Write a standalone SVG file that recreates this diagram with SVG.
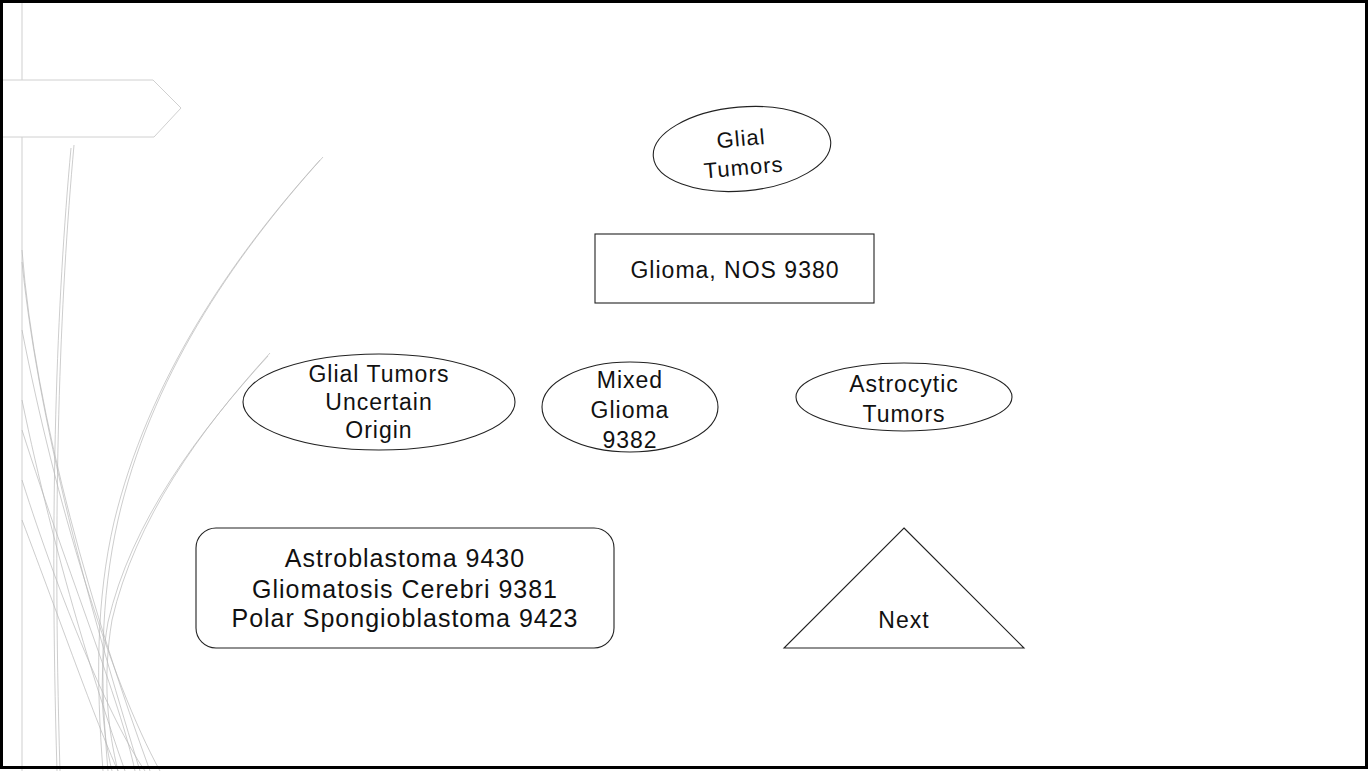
<svg xmlns="http://www.w3.org/2000/svg" width="1369" height="771" viewBox="0 0 1369 771">
<style>
.w{fill:none;stroke:#b8b8b8;stroke-width:0.7}
.n{fill:#fff;stroke:#222;stroke-width:1.1}
.t{font-family:"Liberation Sans",Arial,sans-serif;fill:#111;text-anchor:middle;letter-spacing:1px}
</style>
<rect x="0" y="0" width="1369" height="771" fill="#fff"/>
<g id="decor">
<line x1="22" y1="0" x2="22" y2="771" stroke="#cfcfcf" stroke-width="1"/>
<path class="w" d="M74,145 C60,300 52,500 60,771"/>
<path class="w" d="M71,148 C57,300 49,500 57,771"/>
<path class="w" d="M323,157 C230,260 150,380 118,520 C100,600 100,680 108,771"/>
<path class="w" d="M320,160 C228,262 148,382 114,522 C96,600 96,680 103,771"/>
<path class="w" d="M270,353 C200,430 135,520 112,620 C102,680 108,730 118,771"/>
<path class="w" d="M268,356 C198,433 131,522 108,622 C98,680 102,730 112,771"/>
<path class="w" d="M22,250 C35,420 95,620 150,771"/>
<path class="w" d="M22,262 C40,440 100,640 140,771"/>
<path class="w" d="M22,330 C55,500 110,680 160,771"/>
<path class="w" d="M22,400 C55,560 100,700 125,771"/>
<path class="w" d="M22,430 C70,580 120,700 135,771"/>
<path class="w" d="M22,480 C60,600 110,720 145,771"/>
<path class="w" d="M22,520 C60,620 95,720 118,771"/>
<polygon points="0,80 153,80 181,108 154,137 0,137" fill="#fff" stroke="#d0d0d0" stroke-width="1"/>
</g>
<rect x="1.5" y="1.5" width="1365" height="766" fill="none" stroke="#000" stroke-width="3"/>
<g id="connectors"></g>
<g id="glial-tumors">
<ellipse class="n" cx="742" cy="149" rx="89" ry="42" transform="rotate(-5 742 149)"/>
<g transform="rotate(-5 742 149)">
<text class="t" x="742" y="146" font-size="22">Glial</text>
<text class="t" x="742" y="175" font-size="22">Tumors</text>
</g>
</g>
<g id="glioma-nos">
<rect class="n" x="595" y="234" width="279" height="69"/>
<text class="t" x="735" y="278" font-size="23">Glioma, NOS 9380</text>
</g>
<g id="uncertain-origin">
<ellipse class="n" cx="379" cy="402" rx="136" ry="48"/>
<text class="t" x="379" y="382" font-size="23">Glial Tumors</text>
<text class="t" x="379" y="410" font-size="23">Uncertain</text>
<text class="t" x="379" y="438" font-size="23">Origin</text>
</g>
<g id="mixed-glioma">
<ellipse class="n" cx="630" cy="407" rx="88" ry="45"/>
<text class="t" x="630" y="388" font-size="23">Mixed</text>
<text class="t" x="630" y="418" font-size="23">Glioma</text>
<text class="t" x="630" y="448" font-size="23">9382</text>
</g>
<g id="astrocytic">
<ellipse class="n" cx="904" cy="397" rx="108" ry="34"/>
<text class="t" x="904" y="392" font-size="23">Astrocytic</text>
<text class="t" x="904" y="422" font-size="23">Tumors</text>
</g>
<g id="uncertain-list">
<rect class="n" x="196" y="528" width="418" height="120" rx="20"/>
<text class="t" x="405" y="567" font-size="25">Astroblastoma 9430</text>
<text class="t" x="405" y="598" font-size="25">Gliomatosis Cerebri 9381</text>
<text class="t" x="405" y="627" font-size="25">Polar Spongioblastoma 9423</text>
</g>
<g id="next">
<polygon class="n" points="904,528 1024,648 784,648"/>
<text class="t" x="904" y="628" font-size="23">Next</text>
</g>
</svg>
